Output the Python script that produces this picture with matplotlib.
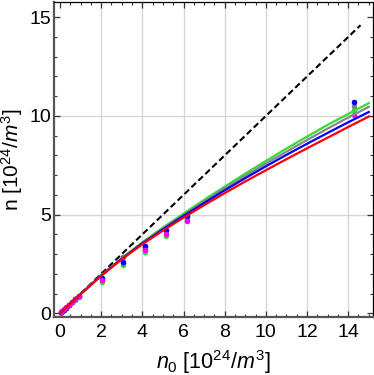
import matplotlib
matplotlib.use("Agg")
import matplotlib.pyplot as plt
from matplotlib.ticker import MultipleLocator

plt.rcParams["font.family"] = ["Liberation Sans", "DejaVu Sans"]
plt.rcParams["mathtext.fontset"] = "custom"
plt.rcParams["mathtext.rm"] = "Liberation Sans"
plt.rcParams["mathtext.it"] = "Liberation Sans:italic"

# fitted curves
curve_x = [0, 1, 2, 3, 4, 5, 6, 7, 8, 9, 10, 11, 12, 13, 14, 15]
green_curve = [0, 0.98, 1.93, 2.80, 3.60, 4.35, 5.05, 5.75, 6.42, 7.08, 7.72, 8.35, 8.95, 9.55, 10.10, 10.65]
gray_curve = [0, 0.98, 1.92, 2.78, 3.57, 4.30, 4.99, 5.67, 6.33, 6.97, 7.59, 8.19, 8.78, 9.36, 9.92, 10.46]
blue_curve = [0, 0.97, 1.91, 2.76, 3.54, 4.25, 4.93, 5.59, 6.23, 6.85, 7.45, 8.03, 8.59, 9.14, 9.68, 10.20]
red_curve = [0, 0.97, 1.90, 2.74, 3.50, 4.19, 4.85, 5.48, 6.09, 6.68, 7.25, 7.81, 8.36, 8.90, 9.44, 9.97]

# measured points
point_x = [0.05, 0.1, 0.2, 0.3, 0.45, 0.6, 0.75, 0.9, 2.03, 3.07, 4.15, 5.17, 6.15, 14.3]
blue_pts = [0.05, 0.10, 0.19, 0.29, 0.44, 0.58, 0.73, 0.87, 1.78, 2.60, 3.42, 4.22, 4.93, 10.72]
gray_pts = [0.05, 0.10, 0.19, 0.29, 0.43, 0.57, 0.72, 0.86, 1.72, 2.56, 3.30, 4.17, 4.85, 10.52]
green_pts = [0.04, 0.09, 0.18, 0.27, 0.41, 0.55, 0.69, 0.83, 1.60, 2.44, 3.12, 3.92, 4.75, 10.30]
magenta_pts = [0.05, 0.10, 0.20, 0.30, 0.44, 0.59, 0.74, 0.88, 1.68, 2.86, 3.23, 4.04, 4.66, 10.05]

identity_x = [0, 14.6]
identity_y = [0, 14.6]

fig = plt.figure(figsize=(3.74, 3.75), dpi=100)
ax = fig.add_axes([0.144, 0.154, 0.853, 0.842])

for x in range(2, 15, 2):
    ax.axvline(x, color="#d6d6d6", lw=1.0, zorder=0)
for y in (5, 10):
    ax.axhline(y, color="#d6d6d6", lw=1.0, zorder=0)

for vals, col in [(green_pts, "#33dd33"), (gray_pts, "#808080"),
                  (blue_pts, "#0000ff"), (magenta_pts, "#ff00ff")]:
    ax.scatter(point_x, vals, s=16, color=col, lw=0, zorder=2)

ax.plot(identity_x, identity_y, color="black", lw=1.5, dashes=(3, 1.6), zorder=3)
ax.plot(curve_x, green_curve, color="#33dd33", lw=1.6, zorder=3)
ax.plot(curve_x, gray_curve, color="#888888", lw=1.6, zorder=3)
ax.plot(curve_x, blue_curve, color="#0000ff", lw=1.6, zorder=3)
ax.plot(curve_x, red_curve, color="#ff0000", lw=1.6, zorder=3)

ax.set_xlim(-0.3, 15.2)
ax.set_ylim(-0.2, 15.8)

ax.xaxis.set_major_locator(MultipleLocator(2))
ax.xaxis.set_minor_locator(MultipleLocator(0.5))
ax.yaxis.set_major_locator(MultipleLocator(5))
ax.yaxis.set_minor_locator(MultipleLocator(1))
ax.tick_params(which="both", direction="in", top=True, right=True, labelsize=14, color="#333333")
ax.tick_params(which="major", length=4, width=0.9)
ax.tick_params(which="minor", length=2, width=0.8)
ax.tick_params(axis="x", which="major", pad=5)
ax.tick_params(axis="y", which="major", pad=2)

for side in ("left", "bottom"):
    ax.spines[side].set_color("#555555")
    ax.spines[side].set_linewidth(1.6)
for side in ("top", "right"):
    ax.spines[side].set_color("black")
    ax.spines[side].set_linewidth(0.9)

ax.set_xlabel(r"$n_0$ [10$^{24}$/$m^3$]", fontsize=15.5, labelpad=5)
ax.set_ylabel(r"n [10$^{24}$/$m^3$]", fontsize=15, labelpad=3)

fig.savefig("out.png", dpi=100)
